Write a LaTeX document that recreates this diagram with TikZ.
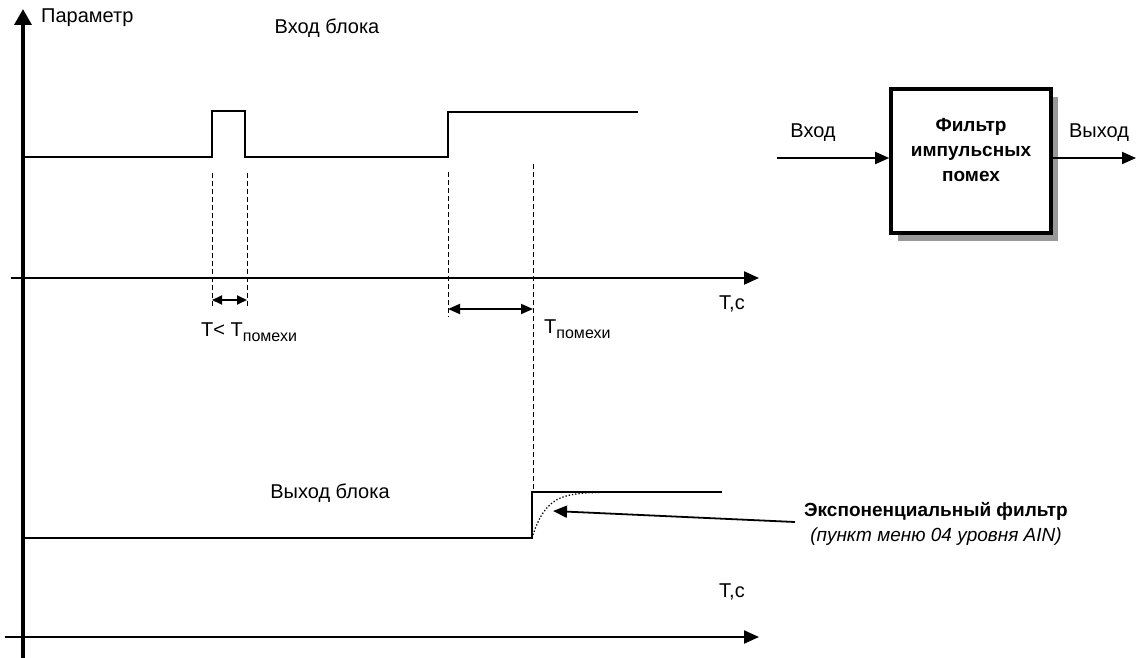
\documentclass[tikz,border=0pt]{standalone}
\usepackage{fontspec}
\setmainfont{Liberation Sans}
\usetikzlibrary{arrows.meta,positioning,calc,shadows}
\newcommand{\lowidx}[1]{\raisebox{-5pt}{\fontsize{16}{16}\selectfont #1}}

\begin{document}
\begin{tikzpicture}[x=1pt, y=-1pt,
    every node/.style={font=\fontsize{20}{24}\selectfont, inner sep=1pt},
    axis/.style={line width=2.2pt, -{Triangle[length=15pt, width=13pt]}},
    signal/.style={line width=1.6pt},
    guide/.style={line width=0.9pt, dash pattern=on 5pt off 3pt},
    span/.style={line width=1.8pt, {Triangle[length=12pt, width=10pt]}-{Triangle[length=12pt, width=10pt]}},
    link/.style={line width=1.8pt, -{Triangle[length=14pt, width=12pt]}},
    block/.style={draw, line width=3.6pt, fill=white, minimum width=160pt, minimum height=144pt,
        drop shadow={shadow xshift=7pt, shadow yshift=-8pt, fill=black!40, opacity=1}}]
    \useasboundingbox (0,0) rectangle (1137,658);

    % axes
    \coordinate (origin_bottom) at (23,658);
    \coordinate (param_top) at (23,9);
    \draw[axis, line width=3.4pt, -{Triangle[length=16pt, width=17pt]}] (origin_bottom) -- (param_top);
    \coordinate (t1_start) at (11,278);
    \coordinate (t1_end) at (759,278);
    \draw[axis] (t1_start) -- (t1_end);
    \coordinate (t2_start) at (5,637);
    \coordinate (t2_end) at (759,637);
    \draw[axis] (t2_start) -- (t2_end);

    \node[anchor=west] (param) at (40,18) {Параметр};
    \node (in_label) at (327,28) {Вход блока};
    \node (out_label) at (330,493) {Выход блока};
    \node[anchor=west] (t1_label) at (718,304) {T,c};
    \node[anchor=west] (t2_label) at (718,592) {T,c};

    % input signal
    \draw[signal] (23,157) -- (212,157) -- (212,111) -- (245,111) -- (245,157)
        -- (448,157) -- (448,112) -- (638,112);

    % output signal
    \draw[signal] (23,538) -- (532,538) -- (532,492) -- (722,492);
    \draw[dotted, line width=1.3pt] plot[domain=0:70, samples=40]
        ({532+\x}, {538-46*(1-exp(-\x/14))});

    % guide lines
    \draw[guide] (212,173) -- (212,307);
    \draw[guide] (247,173) -- (247,307);
    \draw[guide] (448,172) -- (448,317);
    \draw[guide] (533,164) -- (533,490);

    \coordinate (short_a) at (212,300);
    \coordinate (short_b) at (247,300);
    \draw[span, {Triangle[length=10pt, width=9pt]}-{Triangle[length=10pt, width=9pt]}] (short_a) -- (short_b);
    \coordinate (long_a) at (448,309);
    \coordinate (long_b) at (533,309);
    \draw[span] (long_a) -- (long_b);

    \node[anchor=west] (short_label) at (200,332) {T< T\lowidx{помехи}};
    \node[anchor=west] (long_label) at (543,329) {T\lowidx{помехи}};

    % filter block
    \node[block] (filter) at (971,161) {};
    \node[align=center, font=\fontsize{19}{25}\selectfont\bfseries] (filter_text) at (971,150) {Фильтр\\импульсных\\помех};
    \coordinate (in_src) at (777,158);
    \coordinate (out_dst) at (1136,158);
    \draw[link] (in_src) -- (filter.west |- in_src);
    \draw[link] (filter.east |- out_dst) -- (out_dst);
    \node (in_text) at (813,133) {Вход};
    \node (out_text) at (1099,133) {Выход};

    % exponential filter note
    \node[align=center, font=\fontsize{19}{25}\selectfont] (note) at (936,524) {\textbf{Экспоненциальный фильтр}\\\textit{(пункт меню 04 уровня AIN)}};
    \coordinate (note_src) at (795,522);
    \coordinate (curve_pt) at (553,511);
    \draw[link] (note_src) -- (curve_pt);
\end{tikzpicture}
\end{document}
